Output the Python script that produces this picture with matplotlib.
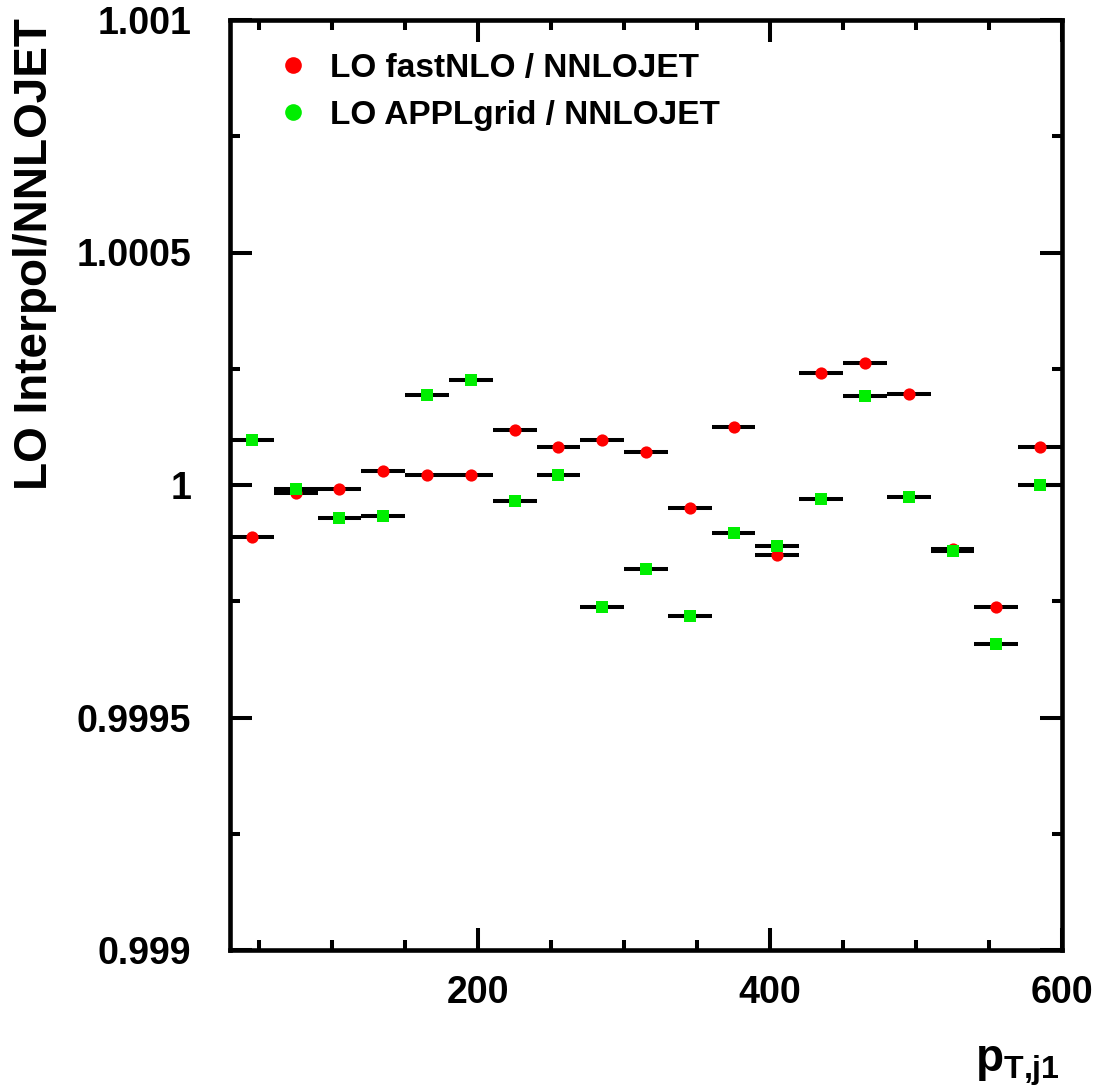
import numpy as np
import matplotlib
matplotlib.use("Agg")
import matplotlib.pyplot as plt
from matplotlib.lines import Line2D

plt.rcParams['font.family'] = ['Liberation Sans', 'DejaVu Sans']
plt.rcParams['mathtext.fontset'] = 'custom'
plt.rcParams['mathtext.rm'] = 'Liberation Sans'
plt.rcParams['mathtext.it'] = 'Liberation Sans'
plt.rcParams['mathtext.bf'] = 'Liberation Sans:bold'

# ==============================
# DATA (pT bins of 30 GeV, 30 - 600)
# ==============================
bin_lo = [30, 60, 90, 120, 150, 180, 210, 240, 270, 300,
          330, 360, 390, 420, 450, 480, 510, 540, 570]
bin_hi = [60, 90, 120, 150, 180, 210, 240, 270, 300, 330,
          360, 390, 420, 450, 480, 510, 540, 570, 600]

fastnlo_ratio = [0.999888, 0.999983, 0.999991, 1.000030, 1.000022,
                 1.000022, 1.000118, 1.000082, 1.000097, 1.000071,
                 0.999951, 1.000125, 0.999849, 1.000241, 1.000262,
                 1.000196, 0.999862, 0.999738, 1.000082]
applgrid_ratio = [1.000097, 0.999991, 0.999929, 0.999933, 1.000194,
                  1.000226, 0.999966, 1.000022, 0.999738, 0.999819,
                  0.999718, 0.999897, 0.999869, 0.999970, 1.000191,
                  0.999974, 0.999858, 0.999658, 1.000000]

labels = ["LO fastNLO / NNLOJET", "LO APPLgrid / NNLOJET"]

y_ticks = [0.999, 0.9995, 1.0, 1.0005, 1.001]
y_tick_labels = ["0.999", "0.9995", "1", "1.0005", "1.001"]
x_ticks = [200, 400, 600]
x_tick_labels = ["200", "400", "600"]

# ==============================
# PLOT
# ==============================
lo = np.array(bin_lo, dtype=float)
hi = np.array(bin_hi, dtype=float)
centers = 0.5 * (lo + hi)
half = 0.5 * (hi - lo)

fig = plt.figure(figsize=(11, 10.92), dpi=100)
ax = fig.add_axes([230 / 1100, 1 - 950 / 1092, 832 / 1100, 930 / 1092])

ax.errorbar(centers, fastnlo_ratio, xerr=half, fmt='o', color='#ff0000',
            ecolor='black', elinewidth=2.9, capsize=0, markersize=8.8,
            markeredgewidth=0, zorder=3)
ax.errorbar(centers, applgrid_ratio, xerr=half, fmt='s', color='#00ee00',
            ecolor='black', elinewidth=2.9, capsize=0, markersize=8.0,
            markeredgewidth=0, zorder=4)

ax.set_xlim(30, 600)
ax.set_ylim(0.999, 1.001)

ax.set_xticks(x_ticks)
ax.set_xticklabels(x_tick_labels)
ax.set_xticks([50, 100, 150, 250, 300, 350, 450, 500, 550], minor=True)
ax.set_yticks(y_ticks)
ax.set_yticklabels(y_tick_labels)
ax.set_yticks([0.99925, 0.99975, 1.00025, 1.00075], minor=True)

for sp in ax.spines.values():
    sp.set_linewidth(3.3)

ax.tick_params(which='both', direction='in', top=True, right=True, width=2.9)
ax.tick_params(which='major', length=16)
ax.tick_params(which='minor', length=7.5)
ax.tick_params(axis='x', which='major', labelsize=27, pad=18)
ax.tick_params(axis='y', which='major', labelsize=27, pad=28)
for lab in ax.get_xticklabels() + ax.get_yticklabels():
    lab.set_fontweight('bold')

# legend (circle markers for both entries)
handles = [Line2D([], [], linestyle='none', marker='o', color='#ff0000',
                  markersize=12, markeredgewidth=0),
           Line2D([], [], linestyle='none', marker='o', color='#00ee00',
                  markersize=12, markeredgewidth=0)]
leg = ax.legend(handles, labels, loc='upper left',
                bbox_to_anchor=(276 / 1100, 1 - 53 / 1092),
                bbox_transform=fig.transFigure, frameon=False,
                prop={'size': 24, 'weight': 'bold'}, handlelength=1.0,
                handletextpad=0.62, labelspacing=0.47, borderpad=0,
                borderaxespad=0)

# axis titles
fig.text(35 / 1100, 1 - 18 / 1092, "LO Interpol/NNLOJET", rotation=90,
         ha='center', va='top', fontsize=33, fontweight='bold')
fig.text(1060 / 1100, 1 - 1088 / 1092, r"$\mathbf{p}_{\mathbf{T{,}j1}}$",
         ha='right', va='bottom', fontsize=33)

fig.savefig("out.png", dpi=100)
